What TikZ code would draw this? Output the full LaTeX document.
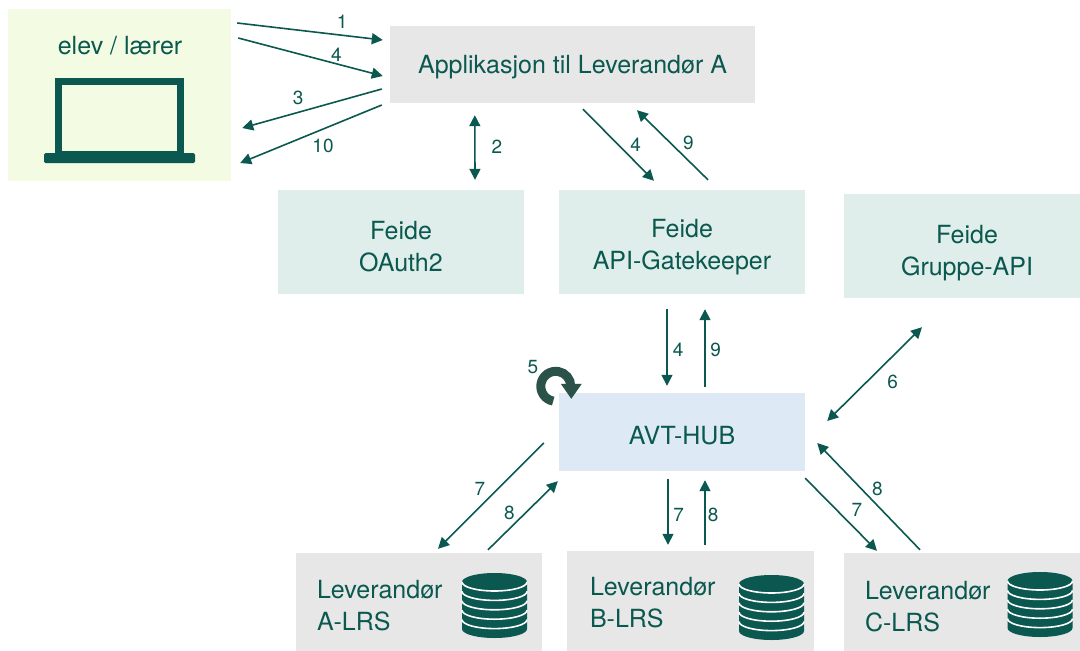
\documentclass[tikz,border=0pt]{standalone}
\usepackage{fontspec}
\setmainfont{TeX Gyre Heros}
\usepackage{tikz}
\usetikzlibrary{arrows.meta, positioning, calc}

\definecolor{avtgreen}{HTML}{0A584F}
\definecolor{loopgreen}{HTML}{2A5249}
\definecolor{userfill}{HTML}{F3FBE2}
\definecolor{appgray}{HTML}{E6E7E6}
\definecolor{feidefill}{HTML}{DFEEEA}
\definecolor{hubfill}{HTML}{DDEAF5}

\begin{document}
\begin{tikzpicture}[x=1pt, y=-1pt, >={Triangle[length=11pt,width=11pt]},
    box/.style={rectangle, inner sep=0pt, align=center, text=avtgreen, font=\fontsize{25}{32}\selectfont},
    feide/.style={box, fill=feidefill, minimum width=246pt, minimum height=104pt},
    lrs/.style={box, fill=appgray, minimum width=246pt, minimum height=98pt},
    num/.style={text=avtgreen, inner sep=1pt, font=\fontsize{19}{19}\selectfont},
    flow/.style={draw=avtgreen, line width=1.6pt}]
    \useasboundingbox (0,0) rectangle (1080,651);

    % user with laptop
    \node (user) [box, fill=userfill, minimum width=223pt, minimum height=172pt] at (119.5,95) {};
    \node (userlbl) [box] at (120,46) {elev / lærer};
    \draw[avtgreen, line width=7pt] (58.5,81.5) rectangle (180.5,154);
    \fill[avtgreen, rounded corners=1.5pt] (44,153) rectangle (195,163);

    \node (app) [box, fill=appgray, minimum width=365pt, minimum height=77pt, text height=18pt, text depth=0pt] at (572.5,64.5) {Applikasjon til Leverandør A};
    \node (hub) [box, fill=hubfill, minimum width=246pt, minimum height=78pt, text height=25pt, text depth=0pt] at (682,432) {AVT-HUB};

    % Feide boxes
    \node (oauth) [feide] at (401,242) {};
    \node (gate) [feide] at (682,242) {};
    \node (gruppe) [feide] at (967,246) {};
    \node (oauthtxt) [box] at ([yshift=-5pt]oauth.center) {Feide\\OAuth2};
    \node (gatetxt) [box] at ([yshift=-5pt]gate.center) {Feide\\API-Gatekeeper};
    \node (gruppetxt) [box] at ([yshift=-7pt]gruppe.center) {Feide\\Gruppe-API};

    % LRS boxes
    \node (lrsA) [lrs] at (419,602) {};
    \node (lrsB) [lrs, minimum width=247pt, minimum height=100pt] at (690.5,601) {};
    \node (lrsC) [lrs] at (967,602) {};
    \node (lrsAtxt) [box, align=left, right=21pt of lrsA.west, yshift=-4pt] {Leverandør\\A-LRS};
    \node (lrsBtxt) [box, align=left, right=23pt of lrsB.west, yshift=-2pt] {Leverandør\\B-LRS};
    \node (lrsCtxt) [box, align=left, right=21pt of lrsC.west, yshift=-5pt] {Leverandør\\C-LRS};

    % database stacks
    \foreach \cx/\cy in {494.5/573, 771.5/575, 1040/572} {
        \fill[avtgreen] (\cx-32.5,\cy+9) -- (\cx-32.5,\cy+56)
            arc[start angle=180, end angle=0, x radius=32.5, y radius=9]
            -- (\cx+32.5,\cy+9)
            arc[start angle=0, end angle=-180, x radius=32.5, y radius=9] -- cycle;
        \foreach \k in {0,...,4}
            \draw[white, line width=1.6pt] (\cx-32.5,\cy+9+\k*9.4)
                arc[start angle=180, end angle=0, x radius=32.5, y radius=9];
    }

    % user <-> application
    \draw[flow, ->] ([xshift=6pt,yshift=72pt]user.east) -- node[num, pos=.72, above=5pt] {1} ([xshift=-7pt,yshift=24.5pt]app.west);
    \draw[flow, ->] ([xshift=7pt,yshift=57pt]user.east) -- node[num, pos=.68, above=1pt] {4} ([xshift=-7pt,yshift=-11.5pt]app.west);
    \draw[flow, ->] ([xshift=-8pt,yshift=-24.5pt]app.west) -- node[num, pos=.6, above=6pt] {3} ([xshift=11pt,yshift=-33pt]user.east);
    \draw[flow, ->] ([xshift=-8pt,yshift=-40.5pt]app.west) -- node[num, pos=.415, below=8pt] {10} ([xshift=9pt,yshift=-68pt]user.east);

    % application <-> Feide
    \draw[flow, <->] ([xshift=85pt,yshift=-12pt]app.south west) -- node[num, pos=.49, right=15pt] {2} ([xshift=74pt,yshift=10pt]oauth.north);
    \draw[flow, ->] ([xshift=10.5pt,yshift=-6pt]app.south) -- node[num, pos=.5, right=10pt] {4} ([xshift=-28pt,yshift=9pt]gate.north);
    \draw[flow, ->] ([xshift=26pt,yshift=10pt]gate.north) -- node[num, pos=.53, right=11pt] {9} ([xshift=64.5pt,yshift=-7pt]app.south);

    % gatekeeper <-> hub
    \draw[flow, ->] ([xshift=-15pt,yshift=-15pt]gate.south) -- node[num, pos=.53, right=4pt] {4} ([xshift=-15pt,yshift=7pt]hub.north);
    \draw[flow, ->] ([xshift=23pt,yshift=6pt]hub.north) -- node[num, pos=.47, right=3.5pt] {9} ([xshift=23pt,yshift=-15pt]gate.south);
    \draw[flow, <->] ([xshift=22pt,yshift=11pt]hub.east) -- node[num, pos=.415, right=19pt] {6} ([xshift=-45pt,yshift=-29pt]gruppe.south);

    % processing loop
    \coordinate (loop) at ([xshift=-3pt,yshift=6.5pt]hub.north west);
    \draw[loopgreen, line width=9pt] (loop) ++(100:15) arc[start angle=100, end angle=360, radius=15];
    \fill[loopgreen] ($(loop)+(5,-2.5)$) -- ($(loop)+(26,-2.5)$) -- ($(loop)+(15.5,12.5)$) -- cycle;
    \node (five) [num] at ($(loop)+(-23,-19.5)$) {5};

    % hub <-> LRS
    \draw[flow, ->] ([xshift=-15pt,yshift=-11pt]hub.west) -- node[num, pos=.434, left=11pt] {7} ([xshift=19pt,yshift=4pt]lrsA.north);
    \draw[flow, ->] ([xshift=69pt,yshift=3pt]lrsA.north) -- node[num, pos=.536, left=9pt] {8} ([xshift=-1pt,yshift=-10pt]hub.south west);
    \draw[flow, ->] ([xshift=-14pt,yshift=-8pt]hub.south) -- node[num, pos=.54, right=3.5pt] {7} ([xshift=-22.5pt,yshift=6pt]lrsB.north);
    \draw[flow, ->] ([xshift=14.5pt,yshift=6pt]lrsB.north) -- node[num, pos=.47, right=1pt] {8} ([xshift=23pt,yshift=-9pt]hub.south);
    \draw[flow, ->] ([xshift=0pt,yshift=-7pt]hub.south east) -- node[num, pos=.44, right=13pt] {7} ([xshift=-90pt,yshift=2pt]lrsC.north);
    \draw[flow, ->] ([xshift=-47pt,yshift=3pt]lrsC.north) -- node[num, pos=.57, right=9pt] {8} ([xshift=12pt,yshift=-11pt]hub.east);
\end{tikzpicture}
\end{document}
